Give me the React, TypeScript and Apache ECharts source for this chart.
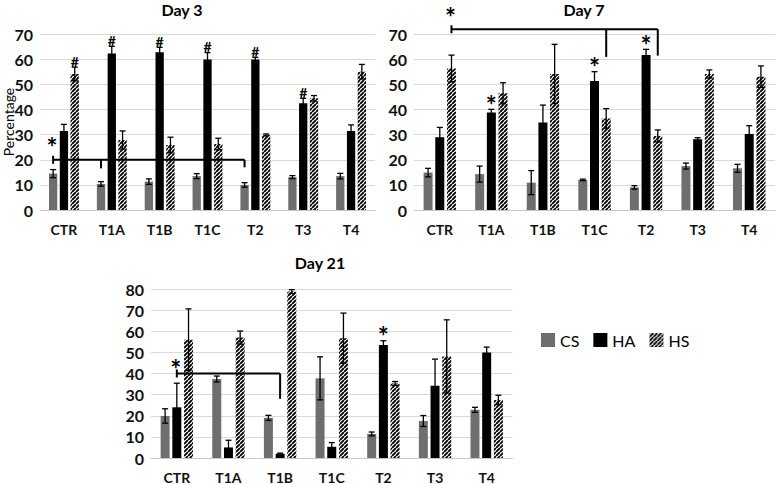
import React, { useEffect, useRef } from 'react';
import * as echarts from 'echarts';

const categories = ['CTR', 'T1A', 'T1B', 'T1C', 'T2', 'T3', 'T4'];
const seriesNames = ['CS', 'HA', 'HS'];

const day3CS = [14.5, 10.4, 11.3, 13.5, 10.0, 13.1, 13.5];
const day3CSErr = [1.6, 0.9, 1.1, 1.0, 0.9, 0.6, 1.1];
const day3HA = [31.5, 62.4, 62.8, 60.0, 60.0, 42.5, 31.5];
const day3HAErr = [2.6, 2.8, 2.0, 2.7, 0.8, 2.0, 2.4];
const day3HS = [54.2, 27.9, 25.9, 26.3, 29.9, 44.5, 55.1];
const day3HSErr = [2.7, 3.6, 3.1, 2.3, 0.4, 1.1, 2.9];

const day7CS = [14.9, 14.3, 10.9, 12.0, 9.0, 17.5, 16.6];
const day7CSErr = [1.7, 3.2, 4.8, 0.3, 0.7, 1.2, 1.6];
const day7HA = [29.0, 38.8, 34.9, 51.4, 61.8, 28.2, 30.3];
const day7HAErr = [3.9, 1.3, 6.9, 3.7, 2.2, 0.6, 3.3];
const day7HS = [56.4, 46.5, 54.2, 36.5, 29.5, 54.2, 53.1];
const day7HSErr = [5.3, 4.2, 11.8, 3.9, 2.4, 1.6, 4.3];

const day21CS = [19.9, 37.4, 19.0, 37.7, 11.4, 17.5, 22.8];
const day21CSErr = [3.4, 1.4, 1.2, 10.2, 0.9, 2.6, 1.2];
const day21HA = [24.0, 5.0, 2.0, 5.3, 53.5, 34.2, 49.9];
const day21HAErr = [11.4, 3.4, 0.3, 2.0, 2.0, 12.6, 2.6];
const day21HS = [56.0, 57.0, 78.8, 56.7, 35.3, 48.1, 27.5];
const day21HSErr = [14.6, 3.1, 0.9, 11.9, 0.9, 17.3, 2.2];

const panelTitles = ['Day 3', 'Day 7', 'Day 21'];
const panelMax = [70, 70, 80];

// significance marks: [series slot (0 CS, 1 HA, 2 HS), category index, symbol]
const day3Marks: [number, number, string][] = [[2, 0, '#'], [1, 1, '#'], [1, 2, '#'], [1, 3, '#'], [1, 4, '#'], [1, 5, '#']];
const day7Marks: [number, number, string][] = [[1, 1, '*'], [1, 3, '*'], [1, 4, '*']];
const day21Marks: [number, number, string][] = [[1, 4, '*']];

// brackets: level value, start [category, slot], drops [category, slot, end value], star value
const day3Bracket = { level: 20, start: [0, 0], drops: [[1, 0, 16.6], [4, 0, 17]], star: 27.2 };
const day7Bracket = { level: 72, start: [0, 2], drops: [[3, 2, 61], [4, 2, 61.5]], star: 79 };
const day21Bracket = { level: 40, start: [0, 1], drops: [[2, 1, 28]], star: 45 };

const FONT = 'Lato, "Open Sans", sans-serif';
const CS_COLOR = '#6e6e6e';
const HA_COLOR = '#000000';
const STAR_SIZE = 26;

function makeHatch(): HTMLCanvasElement {
  const c = document.createElement('canvas');
  const s = 4;
  c.width = s;
  c.height = s;
  const ctx = c.getContext('2d')!;
  ctx.fillStyle = '#ffffff';
  ctx.fillRect(0, 0, s, s);
  ctx.strokeStyle = '#000000';
  ctx.lineWidth = 1.9;
  ctx.beginPath();
  for (let k = -s; k <= s; k += s) {
    ctx.moveTo(k, s);
    ctx.lineTo(k + s, 0);
  }
  ctx.stroke();
  return c;
}

export default function App() {
  const ref = useRef<HTMLDivElement>(null);
  useEffect(() => {
    if (!ref.current) return;
    const chart = echarts.init(ref.current, undefined, { renderer: 'svg' });
    const hatch = makeHatch();
    const colors = [CS_COLOR, HA_COLOR, { image: hatch, repeat: 'repeat' }];

    const grids = [
      { left: 40, right: 402, top: 34.3, bottom: 274 },
      { left: 414, right: 2, top: 34.3, bottom: 274 },
      { left: 151, right: 264.5, top: 289, bottom: 19.7 },
    ];
    const barWidths = [8.3, 9, 9];
    const data = [
      [[day3CS, day3CSErr], [day3HA, day3HAErr], [day3HS, day3HSErr]],
      [[day7CS, day7CSErr], [day7HA, day7HAErr], [day7HS, day7HSErr]],
      [[day21CS, day21CSErr], [day21HA, day21HAErr], [day21HS, day21HSErr]],
    ];
    const marks = [day3Marks, day7Marks, day21Marks];
    const brackets = [day3Bracket, day7Bracket, day21Bracket];
    const starOffset = STAR_SIZE * 0.22;

    const series: any[] = [];
    data.forEach((panel, g) => {
      const bw = barWidths[g];
      const step = bw * 1.3;
      panel.forEach(([vals]) => {
        const s = series.filter((x) => x.type === 'bar' && x.xAxisIndex === g).length;
        series.push({
          name: seriesNames[s],
          type: 'bar',
          xAxisIndex: g,
          yAxisIndex: g,
          barWidth: bw,
          barGap: '30%',
          data: vals,
          itemStyle: { color: colors[s] },
          z: 2,
        });
      });
      panel.forEach(([vals, errs], s) => {
        series.push({
          type: 'custom',
          xAxisIndex: g,
          yAxisIndex: g,
          silent: true,
          z: 5,
          encode: { x: 0, y: 1 },
          data: vals.map((v: number, i: number) => [i, v, errs[i]]),
          renderItem: (params: any, api: any) => {
            const i = api.value(0);
            const v = api.value(1);
            const e = api.value(2);
            const x = api.coord([i, v])[0] + (s - 1) * step;
            const yt = api.coord([i, v + e])[1];
            const yb = api.coord([i, v - e])[1];
            const cap = 3;
            const st = { stroke: '#000', lineWidth: 1.3 };
            return {
              type: 'group',
              children: [
                { type: 'line', shape: { x1: x, y1: yt, x2: x, y2: yb }, style: st },
                { type: 'line', shape: { x1: x - cap, y1: yt, x2: x + cap, y2: yt }, style: st },
                { type: 'line', shape: { x1: x - cap, y1: yb, x2: x + cap, y2: yb }, style: st },
              ],
            };
          },
        });
      });
      // significance marks
      series.push({
        type: 'custom',
        xAxisIndex: g,
        yAxisIndex: g,
        silent: true,
        z: 6,
        encode: { x: 0, y: 1 },
        data: marks[g].map(([s, c, sym]) => {
          const [vals, errs] = panel[s];
          return [c, vals[c] + errs[c], s, sym === '#' ? 0 : 1];
        }),
        renderItem: (params: any, api: any) => {
          const c = api.value(0);
          const top = api.value(1);
          const s = api.value(2);
          const isStar = api.value(3) === 1;
          const p = api.coord([c, top]);
          return {
            type: 'text',
            style: isStar
              ? {
                  text: '*', x: p[0] + (s - 1) * step, y: p[1] - 10 + starOffset,
                  textAlign: 'center', textVerticalAlign: 'middle',
                  font: `bold ${STAR_SIZE}px ${FONT}`, fill: '#000',
                }
              : {
                  text: '#', x: p[0] + (s - 1) * step, y: p[1] - 6,
                  textAlign: 'center', textVerticalAlign: 'middle',
                  font: `bold 14px ${FONT}`, fill: '#000',
                },
          };
        },
      });
      // bracket
      const br = brackets[g];
      series.push({
        type: 'custom',
        xAxisIndex: g,
        yAxisIndex: g,
        silent: true,
        z: 7,
        encode: { x: 0, y: 1 },
        data: [[br.start[0], br.level]],
        renderItem: (params: any, api: any) => {
          const st = { stroke: '#000', lineWidth: 2 };
          const sx = api.coord([br.start[0], br.level])[0] + (br.start[1] - 1) * step;
          const ly = api.coord([br.start[0], br.level])[1];
          const children: any[] = [];
          let ex = sx;
          br.drops.forEach(([c, s, endV]) => {
            const dx = api.coord([c, br.level])[0] + (s - 1) * step;
            const dy = api.coord([c, endV])[1];
            children.push({ type: 'line', shape: { x1: dx, y1: ly, x2: dx, y2: dy }, style: st });
            if (dx > ex) ex = dx;
          });
          children.push({ type: 'line', shape: { x1: sx, y1: ly, x2: ex, y2: ly }, style: st });
          children.push({ type: 'line', shape: { x1: sx, y1: ly - 4, x2: sx, y2: ly + 4 }, style: st });
          const starY = api.coord([br.start[0], br.star])[1];
          children.push({
            type: 'text',
            style: {
              text: '*', x: sx - 1, y: starY + starOffset, textAlign: 'center', textVerticalAlign: 'middle',
              font: `bold ${STAR_SIZE}px ${FONT}`, fill: '#000',
            },
          });
          return { type: 'group', children };
        },
      });
    });

    const option: any = {
      animation: false,
      textStyle: { fontFamily: FONT },
      grid: grids,
      legend: {
        data: seriesNames,
        left: 541,
        top: 332,
        padding: 0,
        itemWidth: 14,
        itemHeight: 14,
        itemGap: 14,
        icon: 'rect',
        textStyle: { fontSize: 16, color: '#000', fontFamily: FONT },
        selectedMode: false,
      },
      xAxis: grids.map((_, g) => ({
        type: 'category',
        gridIndex: g,
        data: categories,
        axisLine: { lineStyle: { color: '#c8c8c8', width: 1 } },
        axisTick: { show: false },
        axisLabel: { fontSize: 14, fontWeight: 'bold', color: '#111', margin: 12, fontFamily: FONT },
      })),
      yAxis: grids.map((_, g) => ({
        type: 'value',
        gridIndex: g,
        min: 0,
        max: panelMax[g],
        interval: 10,
        axisLine: { show: false },
        axisTick: { show: false },
        splitLine: { lineStyle: { color: '#d9d9d9', width: 1 } },
        axisLabel: { fontSize: 16, fontWeight: 'bold', color: '#111', margin: 7, fontFamily: FONT },
      })),
      graphic: [
        { type: 'text', x: 182, y: 9, style: { text: panelTitles[0], textAlign: 'center', textVerticalAlign: 'middle', font: `bold 16px ${FONT}`, fill: '#000' } },
        { type: 'text', x: 584, y: 9, style: { text: panelTitles[1], textAlign: 'center', textVerticalAlign: 'middle', font: `bold 16px ${FONT}`, fill: '#000' } },
        { type: 'text', x: 320, y: 262, style: { text: panelTitles[2], textAlign: 'center', textVerticalAlign: 'middle', font: `bold 16px ${FONT}`, fill: '#000' } },
        { type: 'text', x: 8, y: 122, rotation: Math.PI / 2, style: { text: 'Percentage', textAlign: 'center', textVerticalAlign: 'middle', font: `14px ${FONT}`, fill: '#000' } },
      ],
      series,
    };
    chart.setOption(option);
    return () => chart.dispose();
  }, []);
  return <div ref={ref} style={{ position: 'absolute', left: 0, top: 0, width: 777, height: 484, background: '#fff' }} />;
}
